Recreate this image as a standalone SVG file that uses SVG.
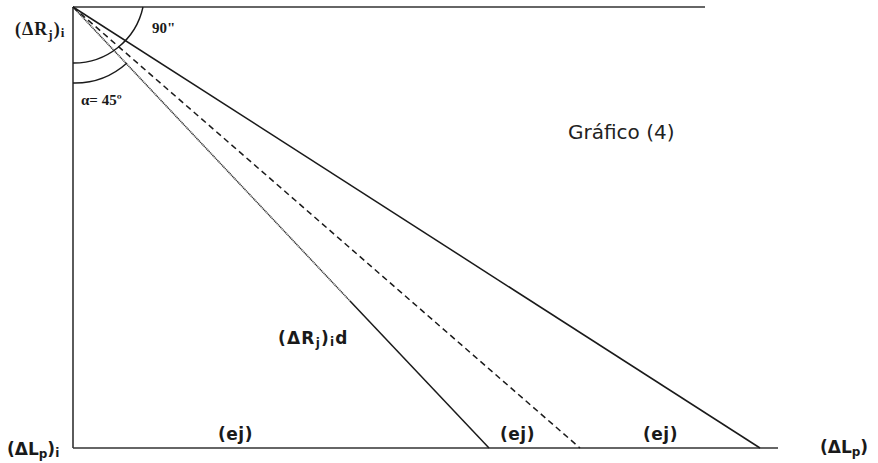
<svg xmlns="http://www.w3.org/2000/svg" width="878" height="463" viewBox="0 0 878 463">
  <style>
    .ax { stroke: #333; stroke-width: 1.6; fill: none; }
    .ln { stroke: #1a1a1a; stroke-width: 1.5; fill: none; }
    .dot { stroke: #333; stroke-width: 1.5; fill: none; stroke-dasharray: 1.2 0.6; }
    .dash { stroke: #1a1a1a; stroke-width: 1.5; fill: none; stroke-dasharray: 6 4; }
    .arc { stroke: #1a1a1a; stroke-width: 1.4; fill: none; }
    .serif { font-family: "Liberation Serif", "Times New Roman", serif; font-weight: bold; fill: #1a1a1a; }
    .sans { font-family: "DejaVu Sans", Verdana, sans-serif; fill: #222; }
    .bsans { font-family: "DejaVu Sans", Verdana, sans-serif; font-weight: bold; fill: #1a1a1a; }
  </style>
  <rect width="878" height="463" fill="#ffffff"/>

  <g id="axes">
    <line class="ax" x1="73" y1="7" x2="705" y2="7"/>
    <line class="ax" x1="73" y1="7" x2="73" y2="448"/>
    <line class="ax" x1="73" y1="448" x2="778" y2="448"/>
  </g>

  <g id="connectors">
    <path class="dot" d="M73,7 L350,301"/>
    <path class="ln" d="M350,301 L489,448"/>
    <path class="dash" d="M73,7 L580,448"/>
    <path class="ln" d="M73,7 L760,448"/>
  </g>

  <g id="angles">
    <path class="arc" d="M73,63 A71,71 0 0 0 143,7"/>
    <path class="arc" d="M73,83 A78,78 0 0 0 127,63"/>
  </g>

  <g id="labels">
    <text class="serif" x="15" y="35" font-size="18" letter-spacing="1">(ΔR<tspan font-size="13" dy="4">j</tspan><tspan dy="-4">)</tspan><tspan font-size="13" dy="2">i</tspan></text>
    <text class="serif" x="152" y="33" font-size="15">90"</text>
    <text class="serif" x="81" y="105" font-size="15">α= 45º</text>
    <text class="sans" x="568" y="139" font-size="20">Gráfico (4)</text>
    <text class="bsans" x="278" y="344" font-size="17" letter-spacing="1.2">(ΔR<tspan font-size="12" dy="3">j</tspan><tspan dy="-3">)</tspan><tspan font-size="12" dy="2">i</tspan><tspan dy="-2">d</tspan></text>
    <text class="bsans" x="218" y="440" font-size="17" letter-spacing="0.5">(ej)</text>
    <text class="bsans" x="500" y="440" font-size="17" letter-spacing="0.5">(ej)</text>
    <text class="bsans" x="643" y="440" font-size="17" letter-spacing="0.5">(ej)</text>
    <text class="bsans" x="7" y="455" font-size="17">(ΔL<tspan font-size="12" dy="3">p</tspan><tspan dy="-3">)</tspan><tspan font-size="12" dy="2">i</tspan></text>
    <text class="bsans" x="820" y="453" font-size="17">(ΔL<tspan font-size="12" dy="3">p</tspan><tspan dy="-3">)</tspan></text>
  </g>
</svg>
